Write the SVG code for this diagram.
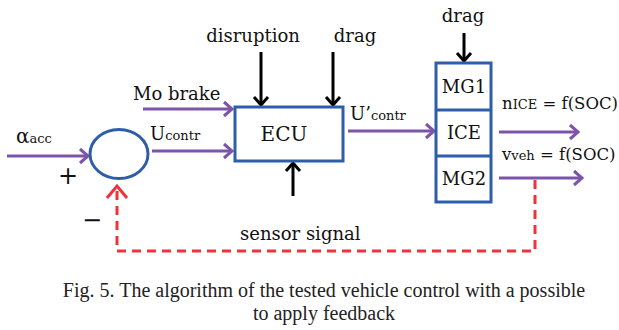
<svg xmlns="http://www.w3.org/2000/svg" width="619" height="330" viewBox="0 0 619 330">
<defs>
<style>
.lbl{font-family:"DejaVu Serif","Liberation Serif",serif;font-size:18px;fill:#111}
.sub{font-size:13px}
.fn{font-size:16.5px}
.cap{font-family:"Liberation Serif",serif;font-size:20px;fill:#222;text-anchor:middle}
.box{fill:#fff;stroke:#2E5DAA;stroke-width:3}
.p{stroke:#7D55A8;stroke-width:3;fill:none}
.k{stroke:#000;stroke-width:3;fill:none}
.r{stroke:#F0323A;stroke-width:3;fill:none;stroke-dasharray:9 6}
.sg{font-family:"DejaVu Sans",sans-serif;font-size:24px;fill:#111}
</style>
</defs>
<rect width="619" height="330" fill="#fff"/>
<g id="connectors">
<line class="p" x1="7" y1="156" x2="88" y2="156"/>
<path class="p" d="M80,149 L88,156 L80,163"/>
<line class="p" x1="143" y1="109" x2="232" y2="109"/>
<path class="p" d="M224,102 L232,109 L224,116"/>
<line class="p" x1="152" y1="151" x2="232" y2="151"/>
<path class="p" d="M224,144 L232,151 L224,158"/>
<line class="p" x1="348" y1="131" x2="434" y2="131"/>
<path class="p" d="M426,124 L434,131 L426,138"/>
<line class="p" x1="499" y1="132" x2="578" y2="132"/>
<path class="p" d="M570,125 L578,132 L570,139"/>
<line class="p" x1="499" y1="178" x2="582" y2="178"/>
<path class="p" d="M574,171 L582,178 L574,185"/>
<line class="k" x1="261" y1="52" x2="261" y2="105"/>
<path class="k" d="M254,97 L261,105 L268,97"/>
<line class="k" x1="333" y1="52" x2="333" y2="105"/>
<path class="k" d="M326,97 L333,105 L340,97"/>
<line class="k" x1="293" y1="196" x2="293" y2="163"/>
<path class="k" d="M286,171 L293,163 L300,171"/>
<line class="k" x1="464" y1="33" x2="464" y2="61"/>
<path class="k" d="M457,53 L464,61 L471,53"/>
<path class="r" d="M535,180 L535,251 L117,251 L117,188"/>
<path d="M107,198 L117,186 L127,198" fill="none" stroke="#F0323A" stroke-width="3"/>
</g>
<g id="sum">
<ellipse cx="119" cy="154" rx="29" ry="24.5" fill="#fff" stroke="#2E5DAA" stroke-width="3"/>
</g>
<g id="ecu">
<rect class="box" x="235" y="107" width="108" height="54"/>
<text class="lbl" x="284" y="141" text-anchor="middle" style="font-size:20px">ECU</text>
</g>
<g id="powertrain">
<rect class="box" x="436" y="63" width="55" height="139"/>
<line x1="436" y1="110" x2="491" y2="110" stroke="#2E5DAA" stroke-width="3"/>
<line x1="436" y1="156" x2="491" y2="156" stroke="#2E5DAA" stroke-width="3"/>
<text class="lbl" x="464" y="93" text-anchor="middle">MG1</text>
<text class="lbl" x="464" y="139" text-anchor="middle">ICE</text>
<text class="lbl" x="464" y="185" text-anchor="middle">MG2</text>
</g>
<g id="labels">
<text class="lbl" x="16" y="143" style="font-size:20px">α<tspan class="sub">acc</tspan></text>
<text class="sg" x="58" y="184">+</text>
<text class="sg" x="82" y="228">−</text>
<text class="lbl" x="133" y="100">Mo brake</text>
<text class="lbl" x="150" y="140">U<tspan class="sub">contr</tspan></text>
<text class="lbl" x="253" y="42" text-anchor="middle">disruption</text>
<text class="lbl" x="355" y="42" text-anchor="middle">drag</text>
<text class="lbl" x="350" y="120">U’<tspan class="sub">contr</tspan></text>
<text class="lbl" x="463" y="22" text-anchor="middle">drag</text>
<text class="lbl fn" x="502" y="109">n<tspan class="sub">ICE</tspan> = f(SOC)</text>
<text class="lbl fn" x="502" y="160">v<tspan class="sub">veh</tspan> = f(SOC)</text>
<text class="lbl" x="240" y="240">sensor signal</text>
</g>
<g id="caption">
<text class="cap" x="324" y="297">Fig. 5. The algorithm of the tested vehicle control with a possible</text>
<text class="cap" x="324" y="320">to apply feedback</text>
</g>
</svg>
